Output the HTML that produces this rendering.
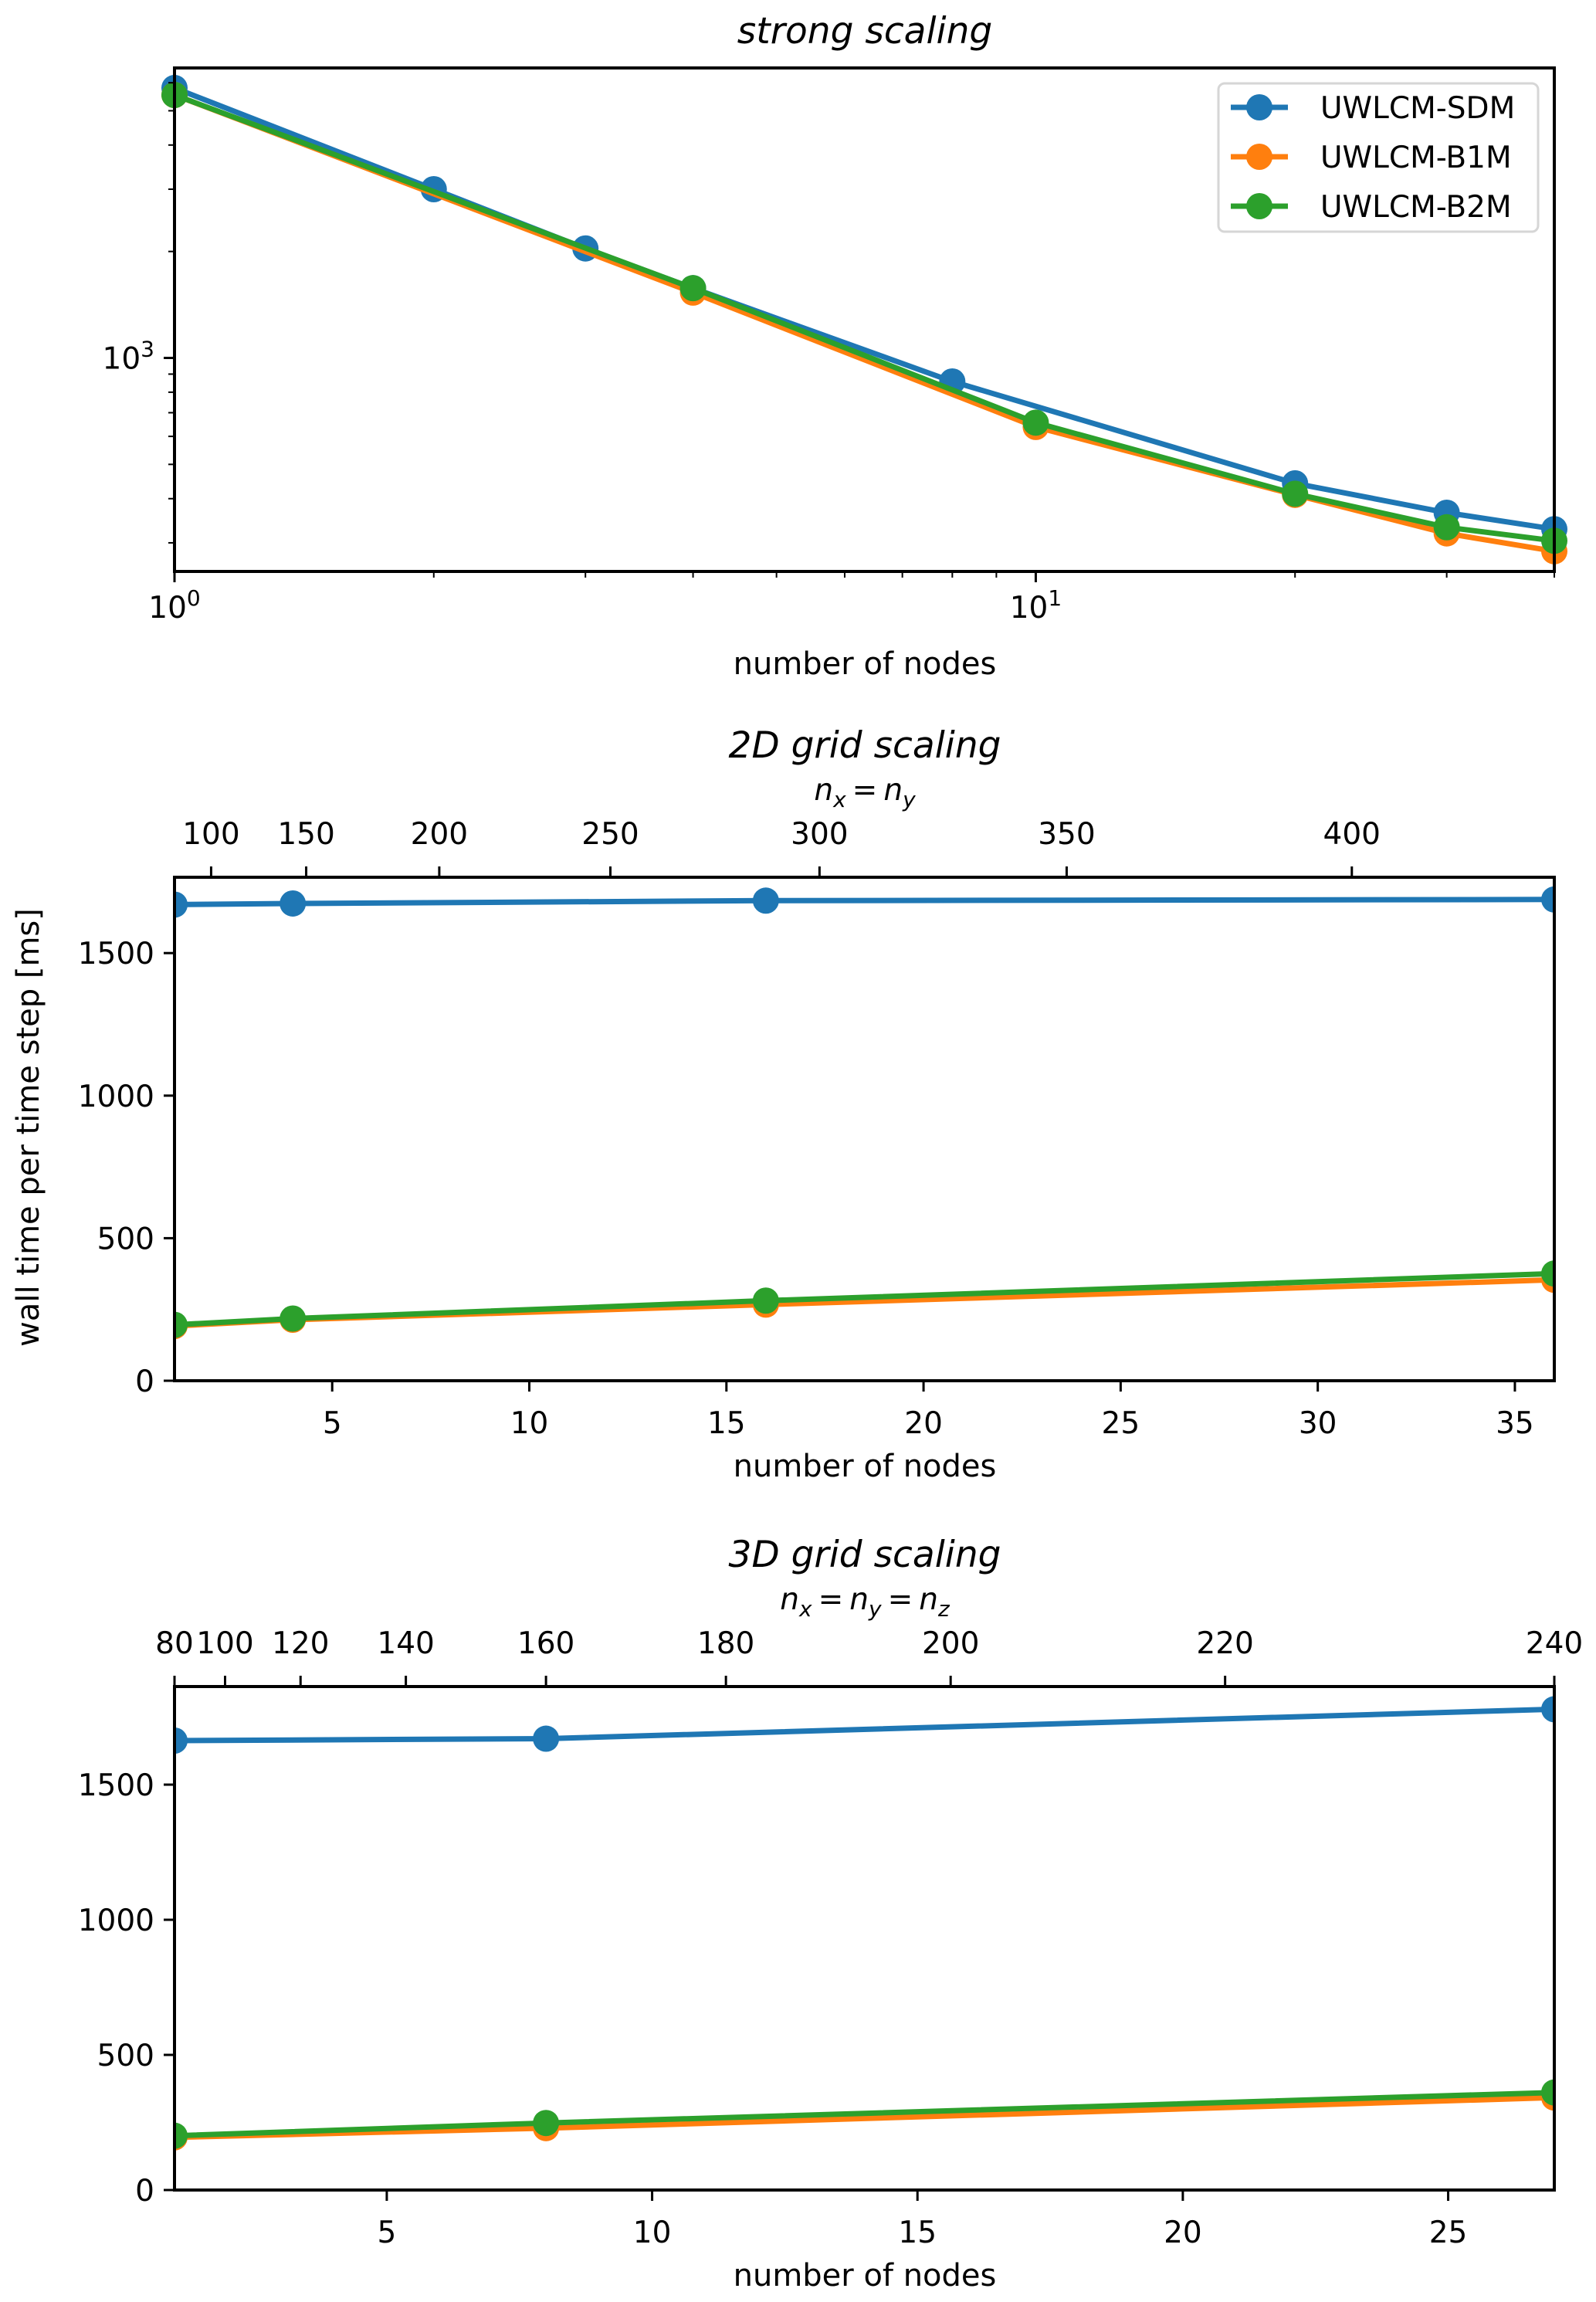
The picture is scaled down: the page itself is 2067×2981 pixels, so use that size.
<!DOCTYPE html>
<html><head><meta charset="utf-8">
<style>
html,body{margin:0;padding:0;background:#fff;}
svg{display:block;font-family:"DejaVu Sans","Liberation Sans",sans-serif;}
</style></head>
<body>
<svg id="fig" width="2067" height="2981" viewBox="0 0 2067 2981" xmlns="http://www.w3.org/2000/svg"></svg>
<script>
// ---------- data ----------
const seriesNames = ["UWLCM-SDM", "UWLCM-B1M", "UWLCM-B2M"];
const seriesColors = ["#1f77b4", "#ff7f0e", "#2ca02c"];
// strong scaling
const strongNodesSDM = [1, 2, 3, 4, 8, 20, 30, 40];
const strongSDM = [5800, 3000, 2040, 1575, 858, 442, 365, 328];
const strongNodesB = [1, 4, 10, 20, 30, 40];
const strongB1M = [5540, 1530, 638, 410, 319, 284];
const strongB2M = [5540, 1575, 656, 413, 332, 304];
// 2D grid scaling
const nodes2D = [1, 4, 16, 36];
const sdm2D = [1670, 1674, 1684, 1688];
const b1m2D = [192, 214, 267, 354];
const b2m2D = [196, 218, 281, 376];
const top2DTicks = [100, 150, 200, 250, 300, 350, 400];
// 3D grid scaling
const nodes3D = [1, 8, 27];
const sdm3D = [1663, 1670, 1779];
const b1m3D = [195, 229, 342];
const b2m3D = [201, 248, 361];
const top3DTicks = [80, 100, 120, 140, 160, 180, 200, 220, 240];
const linYTicks = [0, 500, 1000, 1500];

// ---------- helpers ----------
const svg = document.getElementById('fig');
const NS = 'http://www.w3.org/2000/svg';
function mk(tag, attrs, parent, text) {
  const e = document.createElementNS(NS, tag);
  for (const k in attrs) e.setAttribute(k, attrs[k]);
  if (text !== undefined) e.textContent = text;
  (parent || svg).appendChild(e);
  return e;
}
const L = 226, R = 2013;
function drawSeries(g, xs, ys, fx, fy, color, name) {
  const pts = xs.map((x, i) => fx(x).toFixed(1) + ',' + fy(ys[i]).toFixed(1)).join(' ');
  const pl = mk('polyline', {points: pts, fill: 'none', stroke: color, 'stroke-width': 7, 'stroke-linejoin': 'round'}, g);
  
  
  xs.forEach((x, i) => {
    const c = mk('circle', {cx: fx(x), cy: fy(ys[i]), r: 17, fill: color}, g);
    
    
  });
}
function tick(g, x1, y1, x2, y2, w) {
  mk('line', {x1, y1, x2, y2, stroke: '#000', 'stroke-width': w || 3}, g);
}

// ---------- plot 1: strong scaling (log-log) ----------
(function () {
  const T = 88, B = 740;
  const xmin = 0, xmax = Math.log10(40);
  const ymin = Math.log10(249), ymax = Math.log10(6607);
  const fx = v => L + (Math.log10(v) - xmin) / (xmax - xmin) * (R - L);
  const fy = v => B - (Math.log10(v) - ymin) / (ymax - ymin) * (B - T);
  const g = mk('g', {});
  
  
  const defs = mk('defs', {}, g);
  const cp = mk('clipPath', {id: 'c1'}, defs);
  mk('rect', {x: L - 20, y: T, width: R - L + 40, height: B - T}, cp);
  const data = mk('g', {'clip-path': 'url(#c1)'}, g);
  drawSeries(data, strongNodesSDM, strongSDM, fx, fy, seriesColors[0], 'sdm-strong');
  drawSeries(data, strongNodesB, strongB1M, fx, fy, seriesColors[1], 'b1m-strong');
  drawSeries(data, strongNodesB, strongB2M, fx, fy, seriesColors[2], 'b2m-strong');
  mk('rect', {x: L, y: T, width: R - L, height: B - T, fill: 'none', stroke: '#000', 'stroke-width': 4}, g);
  [1, 10].forEach(v => tick(g, fx(v), B, fx(v), B + 14));
  [2, 3, 4, 5, 6, 7, 8, 9, 20, 30, 40].forEach(v => tick(g, fx(v), B, fx(v), B + 8, 2));
  [[1, '0'], [10, '1']].forEach(([v, s]) => {
    const t = mk('text', {x: fx(v), y: 800, 'font-size': 39, 'text-anchor': 'middle'}, g);
    
    
    t.appendChild(document.createTextNode('10'));
    mk('tspan', {'font-size': 28, dy: -16}, t, s);
  });
  tick(g, L - 14, fy(1000), L, fy(1000));
  [300, 400, 500, 600, 700, 800, 900, 2000, 3000, 4000, 5000, 6000].forEach(v => tick(g, L - 8, fy(v), L, fy(v), 2));
  const yt = mk('text', {x: 200, y: fy(1000) + 14, 'font-size': 39, 'text-anchor': 'end'}, g);
  
  
  yt.appendChild(document.createTextNode('10'));
  mk('tspan', {'font-size': 28, dy: -16}, yt, '3');
  const ti = mk('text', {x: 1120, y: 56, 'font-size': 47, 'font-style': 'italic', 'text-anchor': 'middle'}, g, 'strong scaling');
  
  
  const xl = mk('text', {x: 1120, y: 873, 'font-size': 40, 'text-anchor': 'middle'}, g, 'number of nodes');
  
  
  const lg = mk('g', {}, g);
  
  
  mk('rect', {x: 1578, y: 108, width: 414, height: 192, rx: 8, fill: '#fff', 'fill-opacity': 0.8, stroke: '#d6d6d6', 'stroke-width': 3}, lg);
  [139, 203, 267].forEach((yy, i) => {
    const e = mk('g', {}, lg);
    
    
    mk('line', {x1: 1594, y1: yy, x2: 1668, y2: yy, stroke: seriesColors[i], 'stroke-width': 7}, e);
    mk('circle', {cx: 1631, cy: yy, r: 17, fill: seriesColors[i]}, e);
    mk('text', {x: 1710, y: yy + 14, 'font-size': 39}, e, seriesNames[i]);
  });
})();

// ---------- linear plots ----------
function linPlot(opt) {
  const {T, B, xmax, ymax, nodes, sdm, b1m, b2m, xTicks, topTicks, topMap, title, sub, id, name, yTitle} = opt;
  const fx = v => L + (v - 1) / (xmax - 1) * (R - L);
  const fy = v => B - v / ymax * (B - T);
  const g = mk('g', {});
  
  
  const defs = mk('defs', {}, g);
  const cp = mk('clipPath', {id}, defs);
  mk('rect', {x: L, y: T, width: R - L, height: B - T}, cp);
  const data = mk('g', {'clip-path': 'url(#' + id + ')'}, g);
  drawSeries(data, nodes, sdm, fx, fy, seriesColors[0], 'sdm');
  drawSeries(data, nodes, b1m, fx, fy, seriesColors[1], 'b1m');
  drawSeries(data, nodes, b2m, fx, fy, seriesColors[2], 'b2m');
  mk('rect', {x: L, y: T, width: R - L, height: B - T, fill: 'none', stroke: '#000', 'stroke-width': 4}, g);
  xTicks.forEach(v => {
    tick(g, fx(v), B, fx(v), B + 14);
    const t = mk('text', {x: fx(v), y: B + 68, 'font-size': 39, 'text-anchor': 'middle'}, g, String(v));
    
    
  });
  linYTicks.forEach(v => {
    tick(g, L - 14, fy(v), L, fy(v));
    const t = mk('text', {x: 200, y: fy(v) + 14, 'font-size': 39, 'text-anchor': 'end'}, g, String(v));
    
    
  });
  topTicks.forEach(v => {
    const x = fx(topMap(v));
    tick(g, x, T, x, T - 14);
    const t = mk('text', {x, y: T - 43, 'font-size': 39, 'text-anchor': 'middle'}, g, String(v));
    
    
  });
  const ti = mk('text', {x: 1120, y: T - 155, 'font-size': 47, 'font-style': 'italic', 'text-anchor': 'middle'}, g, title);
  
  
  const st = mk('text', {x: 1120, y: T - 100, 'font-size': 39, 'font-style': 'italic', 'text-anchor': 'middle'}, g);
  
  
  sub.forEach((s, i) => {
    if (i > 0) mk('tspan', {'font-style': 'normal', dx: 8, dy: -9}, st, '=');
    mk('tspan', {dx: i > 0 ? 8 : 0, dy: i > 0 ? 0 : 0}, st, 'n');
    mk('tspan', {'font-size': 28, dy: 9}, st, s);
  });
  const xl = mk('text', {x: 1120, y: B + 124, 'font-size': 40, 'text-anchor': 'middle'}, g, 'number of nodes');
  
  
  if (yTitle) {
    const yl = mk('text', {x: 0, y: 0, 'font-size': 40, 'text-anchor': 'middle', transform: 'translate(50,1460) rotate(-90)'}, g, yTitle);
    
    
  }
}
linPlot({T: 1136, B: 1788, xmax: 36, ymax: 1766, nodes: nodes2D, sdm: sdm2D, b1m: b1m2D, b2m: b2m2D,
  xTicks: [5, 10, 15, 20, 25, 30, 35], topTicks: top2DTicks, topMap: n => Math.pow(n / 72, 2),
  title: '2D grid scaling', sub: ['x', 'y'], id: 'c2', name: '2d-grid-scaling-plot',
  yTitle: 'wall time per time step [ms]'});
linPlot({T: 2184, B: 2836, xmax: 27, ymax: 1863, nodes: nodes3D, sdm: sdm3D, b1m: b1m3D, b2m: b2m3D,
  xTicks: [5, 10, 15, 20, 25], topTicks: top3DTicks, topMap: n => Math.pow(n / 80, 3),
  title: '3D grid scaling', sub: ['x', 'y', 'z'], id: 'c3', name: '3d-grid-scaling-plot'});
</script>
</body></html>
